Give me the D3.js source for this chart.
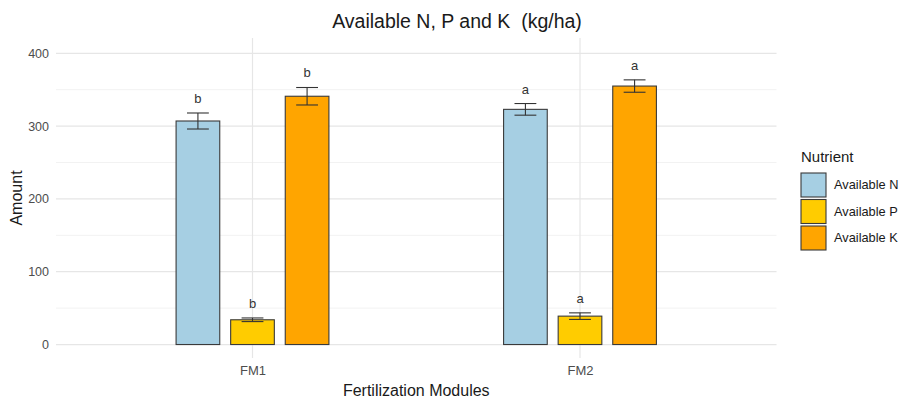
<!DOCTYPE html>
<html>
<head>
<meta charset="utf-8">
<script src="https://cdn.jsdelivr.net/npm/d3@7/dist/d3.min.js"></script>
<style>
  html, body { margin: 0; padding: 0; background: #fff; }
  text { font-family: "Liberation Sans", Arial, sans-serif; }
</style>
</head>
<body>
<svg id="chart" width="902" height="402"></svg>
<script>
// ---- data ----
const modules = ["FM1", "FM2"];
const nutrients = ["Available N", "Available P", "Available K"];
const meanN = [307, 323];
const meanP = [34, 39];
const meanK = [341, 355];
const seN = [11, 8];
const seP = [2.5, 4.5];
const seK = [12, 8.5];
const lettersN = ["b", "a"];
const lettersP = ["b", "a"];
const lettersK = ["b", "a"];
const yTicks = [0, 100, 200, 300, 400];
const yMinor = [50, 150, 250, 350];
const colors = ["#a6cfe3", "#ffcc00", "#ffa500"];

const rows = [];
modules.forEach((m, i) => {
  rows.push({module: m, nutrient: nutrients[0], mean: meanN[i], se: seN[i], letter: lettersN[i]});
  rows.push({module: m, nutrient: nutrients[1], mean: meanP[i], se: seP[i], letter: lettersP[i]});
  rows.push({module: m, nutrient: nutrients[2], mean: meanK[i], se: seK[i], letter: lettersK[i]});
});

const svg = d3.select("#chart");
const panel = {left: 56, right: 776.5, top: 38, bottom: 358};

const x = d3.scalePoint().domain(modules).range([panel.left, panel.right]).padding(0.6);
const step = x.step();
const xInner = d3.scaleBand().domain(nutrients).range([-0.25 * step, 0.25 * step])
  .paddingInner(0.2).paddingOuter(0.1);
const y = d3.scaleLinear().domain([-18.5, 421]).range([panel.bottom, panel.top]);
const color = d3.scaleOrdinal().domain(nutrients).range(colors);

// grid
const g = svg.append("g");
g.selectAll("line.minor").data(yMinor).join("line")
  .attr("x1", panel.left).attr("x2", panel.right)
  .attr("y1", d => y(d)).attr("y2", d => y(d))
  .attr("stroke", "#f2f2f2").attr("stroke-width", 1);
g.selectAll("line.major").data(yTicks).join("line")
  .attr("x1", panel.left).attr("x2", panel.right)
  .attr("y1", d => y(d)).attr("y2", d => y(d))
  .attr("stroke", "#e6e6e6").attr("stroke-width", 1.2);
g.selectAll("line.vmajor").data(modules).join("line")
  .attr("x1", d => x(d)).attr("x2", d => x(d))
  .attr("y1", panel.top).attr("y2", panel.bottom)
  .attr("stroke", "#e6e6e6").attr("stroke-width", 1.2);

// y axis labels
const yAxis = d3.axisLeft(y).tickValues(yTicks).tickSize(0).tickPadding(7);
const ya = svg.append("g").attr("transform", `translate(${panel.left},0)`).call(yAxis);
ya.select(".domain").remove();
ya.selectAll("text").attr("font-size", 12.5).attr("fill", "#4d4d4d")
  .style("font-family", '"Liberation Sans", Arial, sans-serif');

// x axis labels
const xAxis = d3.axisBottom(x).tickSize(0).tickPadding(8);
const xa = svg.append("g").attr("transform", `translate(0,${panel.bottom})`).call(xAxis);
xa.select(".domain").remove();
xa.selectAll("text").attr("font-size", 13).attr("fill", "#4d4d4d")
  .style("font-family", '"Liberation Sans", Arial, sans-serif');

// bars
const bx = d => x(d.module) + xInner(d.nutrient);
svg.append("g").selectAll("rect").data(rows).join("rect")
  .attr("x", bx)
  .attr("width", xInner.bandwidth())
  .attr("y", d => y(d.mean))
  .attr("height", d => y(0) - y(d.mean))
  .attr("fill", d => color(d.nutrient))
  .attr("stroke", "#3a3a3a").attr("stroke-width", 1.1);

// error bars
const eb = svg.append("g").attr("stroke", "#333333").attr("stroke-width", 1.1);
const cap = xInner.bandwidth() / 4;
rows.forEach(d => {
  const cx = bx(d) + xInner.bandwidth() / 2;
  eb.append("line").attr("x1", cx).attr("x2", cx).attr("y1", y(d.mean + d.se)).attr("y2", y(d.mean - d.se));
  eb.append("line").attr("x1", cx - cap).attr("x2", cx + cap).attr("y1", y(d.mean + d.se)).attr("y2", y(d.mean + d.se));
  eb.append("line").attr("x1", cx - cap).attr("x2", cx + cap).attr("y1", y(d.mean - d.se)).attr("y2", y(d.mean - d.se));
});

// letters
svg.append("g").selectAll("text").data(rows).join("text")
  .attr("x", d => bx(d) + xInner.bandwidth() / 2)
  .attr("y", d => y(d.mean + d.se + 20))
  .attr("dy", "0.35em")
  .attr("text-anchor", "middle")
  .attr("font-size", 13).attr("fill", "#333333")
  .text(d => d.letter);

// titles
svg.append("text").attr("x", 457).attr("y", 28).attr("text-anchor", "middle")
  .attr("font-size", 19.5).attr("fill", "#1a1a1a").attr("xml:space", "preserve")
  .text("Available N, P and K  (kg/ha)");
svg.append("text").attr("x", (panel.left + panel.right) / 2).attr("y", 396).attr("text-anchor", "middle")
  .attr("font-size", 16).attr("fill", "#1a1a1a").text("Fertilization Modules");
svg.append("text").attr("transform", `translate(22,${(panel.top + panel.bottom) / 2}) rotate(-90)`)
  .attr("text-anchor", "middle").attr("font-size", 16).attr("fill", "#1a1a1a").text("Amount");

// legend
const lg = svg.append("g").attr("transform", "translate(801,0)");
lg.append("text").attr("x", 0).attr("y", 162).attr("font-size", 15).attr("fill", "#1a1a1a").text("Nutrient");
const keys = lg.selectAll("g.key").data(nutrients).join("g")
  .attr("transform", (d, i) => `translate(0,${173 + i * 26.5})`);
keys.append("rect").attr("width", 25).attr("height", 24)
  .attr("fill", d => color(d)).attr("stroke", "#3a3a3a").attr("stroke-width", 1.1);
keys.append("text").attr("x", 33).attr("y", 12).attr("dy", "0.35em")
  .attr("font-size", 12.8).attr("fill", "#1a1a1a").text(d => d);
</script>
</body>
</html>
